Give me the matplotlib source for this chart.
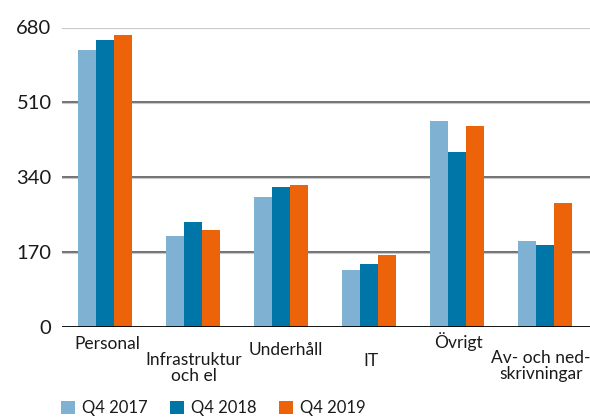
import numpy as np
import matplotlib
matplotlib.use("Agg")
import matplotlib.pyplot as plt

plt.rcParams['font.family'] = ['Lato', 'DejaVu Sans']

# data
categories = ["Personal", "Infrastruktur\noch el", "Underhåll", "IT", "Övrigt",
              "Av- och ned-\nskrivningar"]
series_names = ["Q4 2017", "Q4 2018", "Q4 2019"]
q4_2017 = [629, 207, 295, 129, 468, 195]
q4_2018 = [652, 238, 318, 143, 397, 186]
q4_2019 = [663, 220, 322, 163, 456, 281]
yticks = [0, 170, 340, 510, 680]

colors = ["#7fb1d3", "#0075a8", "#ec630a"]
TXT = "#1a1a1a"

# baseline (of the last line) of each label, pixels from the top of the figure
label_baseline_px = [349, 381, 355, 366, 348, 379]
# small horizontal nudges (in group units), the last one sits against the edge
label_nudge = [0.03, 0.01, 0.05, 0.02, 0.02, -0.05]

fig = plt.figure(figsize=(5.9, 4.17), dpi=100)
ax = fig.add_axes([62 / 590, 1 - 327 / 417, 528 / 590, 299.5 / 417])

x = np.arange(len(categories))
w = 0.205
for k, vals in enumerate([q4_2017, q4_2018, q4_2019]):
    ax.bar(x + (k - 1) * w, vals, width=w, color=colors[k], label=series_names[k],
           zorder=3, linewidth=0)

ax.set_xlim(-0.489, 5.511)
ax.set_ylim(0, 680)
ax.set_yticks(yticks)
ax.set_yticklabels([str(t) for t in yticks])
ax.tick_params(axis='y', length=0, pad=7.5, labelsize=14.5, labelcolor=TXT)
ax.set_xticks([])
for s in ax.spines.values():
    s.set_visible(False)

# gridlines with a faint shadow under each
for t in yticks[1:]:
    ax.axhline(t, color="#4a4a4a", lw=1.1, zorder=1)
    ax.axhline(t - 1.6, color="#c8c8c8", lw=0.8, zorder=1)
ax.axhline(0, color="black", lw=2.0, zorder=4)

# category labels
for i, (lab, ypx) in enumerate(zip(categories, label_baseline_px)):
    yv = (327 - ypx) / 299.5 * 680
    ax.text(i + label_nudge[i], yv, lab, ha='center', va='baseline', fontsize=12.5,
            color=TXT, linespacing=1.0, clip_on=False)

fig.legend(loc='lower left', bbox_to_anchor=(61 / 590, 1 / 417), ncol=3,
           frameon=False, fontsize=12, handlelength=0.84, handleheight=0.84,
           handletextpad=0.42, columnspacing=1.35, borderpad=0, borderaxespad=0,
           labelcolor=TXT)

fig.savefig("out.png", dpi=100)
